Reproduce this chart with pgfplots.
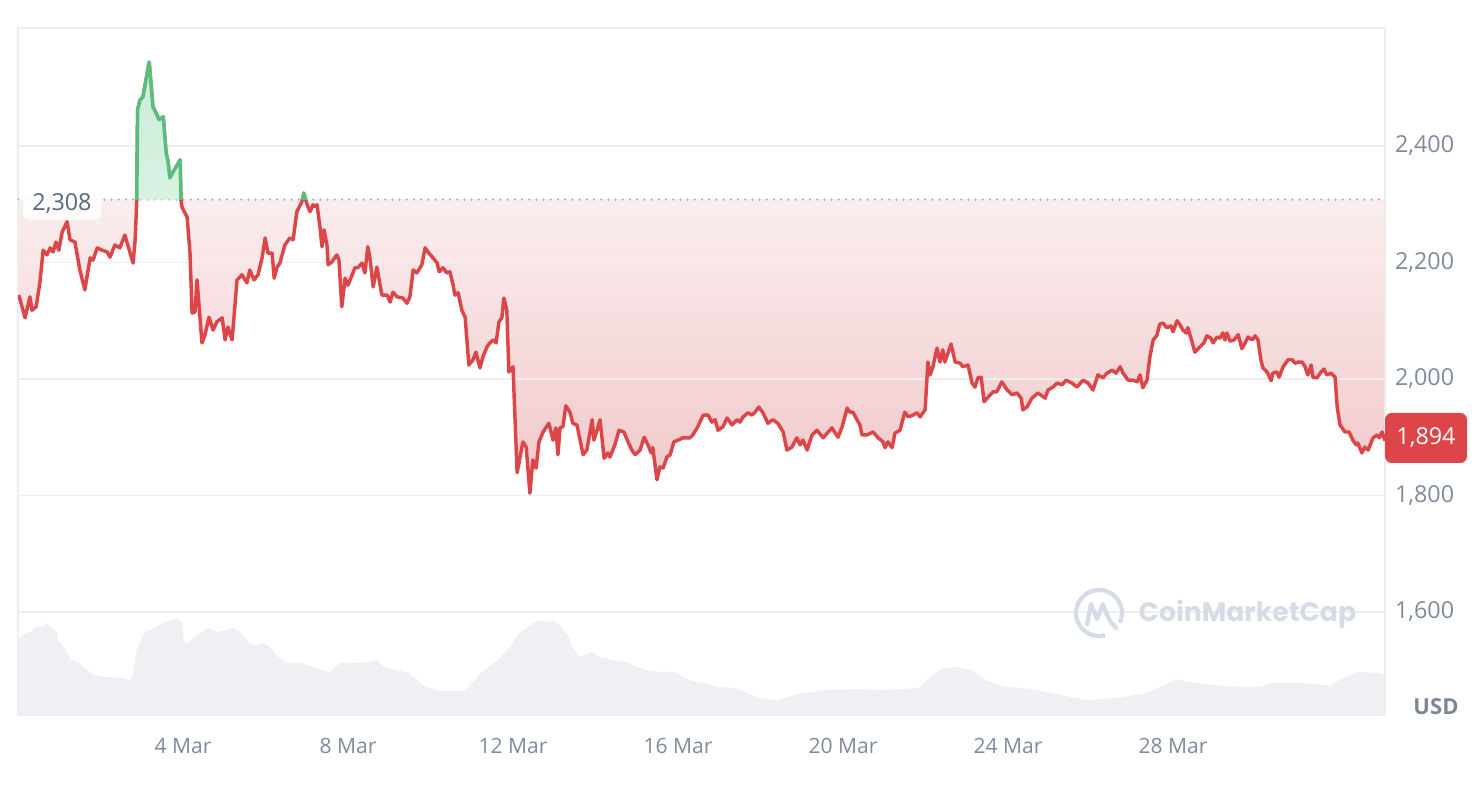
\documentclass[border=0pt]{standalone}
\usepackage{pgfplots}
\pgfplotsset{compat=1.18}
\usepackage{pgfplotstable}
\usepackage{fontspec}
\setmainfont{Open Sans}
\newfontfamily\wmfont{Poppins}
\definecolor{cmcred}{RGB}{220,70,72}
\definecolor{cmcgreen}{RGB}{88,189,125}
\definecolor{gridc}{RGB}{238,238,240}
\definecolor{labc}{RGB}{128,138,157}
\definecolor{usdc}{RGB}{125,134,153}
\definecolor{refc}{RGB}{88,102,126}
\definecolor{volc}{RGB}{239,240,244}
\definecolor{wmc}{RGB}{214,220,231}
\definecolor{redbot}{RGB}{241,200,201}
\definecolor{grntop}{RGB}{200,236,214}
\definecolor{dotc}{RGB}{140,140,146}

\pgfplotstableread{
d v
0.02 2144
0.17 2105
0.29 2141
0.34 2118
0.44 2124
0.53 2165
0.61 2221
0.70 2213
0.78 2225
0.85 2218
0.92 2235
0.99 2221
1.07 2252
1.19 2270
1.26 2239
1.38 2235
1.50 2187
1.62 2153
1.75 2208
1.82 2204
1.92 2225
2.04 2221
2.16 2218
2.23 2209
2.35 2230
2.47 2225
2.59 2247
2.72 2216
2.79 2199
2.84 2239
2.88 2307
2.90 2462
2.96 2479
3.03 2484
3.18 2544
3.27 2467
3.37 2453
3.42 2445
3.52 2450
3.59 2388
3.64 2372
3.68 2345
3.76 2355
3.93 2376
3.95 2307
3.98 2294
4.10 2278
4.17 2216
4.22 2113
4.29 2115
4.34 2170
4.46 2062
4.53 2075
4.63 2106
4.73 2084
4.82 2098
4.95 2105
5.02 2067
5.09 2089
5.19 2067
5.31 2170
5.38 2175
5.43 2179
5.55 2165
5.62 2187
5.72 2170
5.82 2179
5.92 2209
5.99 2242
6.06 2216
6.16 2216
6.21 2173
6.28 2192
6.35 2199
6.47 2230
6.59 2242
6.67 2239
6.76 2287
6.88 2304
6.93 2319
7.01 2299
7.08 2287
7.15 2299
7.20 2296
7.25 2299
7.32 2261
7.37 2227
7.42 2256
7.49 2230
7.52 2196
7.61 2201
7.73 2213
7.78 2204
7.85 2124
7.93 2173
8.00 2161
8.17 2191
8.24 2191
8.34 2199
8.41 2182
8.48 2227
8.53 2209
8.61 2158
8.70 2192
8.82 2144
8.95 2144
9.02 2132
9.09 2149
9.19 2141
9.33 2139
9.43 2130
9.50 2141
9.58 2187
9.67 2182
9.79 2196
9.87 2225
9.96 2216
10.06 2208
10.16 2199
10.21 2184
10.30 2191
10.40 2182
10.47 2184
10.55 2161
10.59 2144
10.67 2148
10.76 2118
10.84 2106
10.93 2024
11.03 2033
11.10 2046
11.20 2019
11.27 2038
11.37 2055
11.44 2062
11.52 2067
11.59 2062
11.66 2098
11.73 2105
11.78 2139
11.85 2118
11.90 2012
12.00 2021
12.10 1839
12.24 1892
12.32 1883
12.41 1804
12.48 1861
12.56 1847
12.63 1892
12.73 1909
12.87 1924
12.97 1895
13.04 1916
13.09 1870
13.14 1916
13.21 1918
13.28 1954
13.38 1943
13.45 1924
13.55 1921
13.70 1870
13.79 1878
13.92 1930
13.96 1895
14.04 1912
14.11 1930
14.21 1864
14.30 1873
14.35 1866
14.47 1887
14.57 1912
14.69 1909
14.79 1892
14.88 1878
14.96 1870
15.08 1878
15.18 1900
15.27 1887
15.35 1873
15.39 1882
15.49 1827
15.56 1849
15.64 1847
15.73 1866
15.81 1870
15.90 1892
16.00 1895
16.12 1899
16.29 1899
16.36 1904
16.48 1918
16.61 1938
16.73 1938
16.82 1926
16.90 1930
16.97 1912
17.09 1918
17.19 1933
17.31 1921
17.43 1930
17.50 1926
17.58 1935
17.70 1942
17.79 1938
17.87 1943
17.96 1952
18.06 1942
18.18 1924
18.30 1930
18.42 1924
18.55 1909
18.64 1878
18.76 1883
18.88 1899
18.96 1887
19.03 1895
19.13 1878
19.25 1904
19.37 1912
19.52 1899
19.73 1916
19.88 1900
19.98 1918
20.10 1950
20.17 1943
20.24 1943
20.41 1921
20.46 1904
20.58 1904
20.73 1909
20.85 1899
20.97 1892
21.02 1882
21.09 1892
21.19 1882
21.26 1907
21.38 1912
21.50 1943
21.58 1935
21.70 1938
21.79 1942
21.87 1935
21.99 1947
22.06 2029
22.11 2007
22.18 2021
22.28 2053
22.35 2029
22.42 2050
22.47 2029
22.62 2060
22.72 2029
22.84 2027
22.91 2021
23.03 2024
23.13 1993
23.20 1986
23.27 2002
23.35 2003
23.42 1961
23.52 1969
23.64 1978
23.73 1978
23.85 1995
23.98 1981
24.10 1973
24.22 1976
24.32 1967
24.36 1947
24.46 1952
24.58 1967
24.73 1976
24.90 1967
24.97 1981
25.09 1986
25.19 1993
25.31 1990
25.41 1998
25.55 1993
25.67 1986
25.82 1998
25.94 1993
26.06 1981
26.18 2007
26.30 2002
26.40 2010
26.52 2015
26.62 2010
26.72 2021
26.79 2010
26.91 1998
27.03 1998
27.13 1995
27.20 2007
27.27 1985
27.37 1998
27.44 2038
27.52 2067
27.61 2075
27.68 2094
27.76 2096
27.85 2088
27.95 2091
28.00 2081
28.10 2100
28.17 2093
28.24 2084
28.32 2079
28.36 2088
28.46 2064
28.53 2046
28.65 2055
28.75 2062
28.82 2074
28.92 2070
28.97 2062
29.07 2072
29.14 2070
29.21 2079
29.26 2067
29.31 2079
29.38 2065
29.48 2067
29.58 2076
29.67 2052
29.75 2062
29.82 2072
29.92 2067
29.99 2074
30.06 2067
30.13 2033
30.18 2019
30.28 2012
30.38 1997
30.42 2010
30.52 2012
30.57 2003
30.67 2021
30.79 2033
30.89 2033
30.96 2027
31.03 2029
31.13 2029
31.20 2021
31.27 2007
31.35 2024
31.39 2003
31.49 2002
31.59 2012
31.66 2017
31.73 2007
31.83 2010
31.93 2003
31.98 1952
32.05 1921
32.17 1909
32.27 1909
32.36 1895
32.44 1887
32.48 1890
32.58 1873
32.65 1883
32.73 1878
32.85 1899
32.95 1904
33.00 1899
33.07 1909
33.14 1894
}\pricetable

\pgfplotstableread{
d h
0.00 73
0.07 78
0.19 82
0.32 83
0.41 88
0.58 88
0.70 92
0.82 87
0.95 83
0.99 74
1.12 67
1.21 62
1.28 55
1.45 53
1.62 47
1.84 40
2.08 38
2.30 38
2.55 37
2.72 35
2.79 43
2.88 65
3.01 78
3.10 83
3.35 88
3.56 93
3.73 95
3.85 97
3.98 93
4.02 73
4.15 72
4.24 77
4.48 83
4.61 87
4.82 83
5.04 85
5.21 87
5.41 82
5.58 73
5.75 70
5.96 72
6.13 67
6.30 58
6.55 52
6.88 52
7.01 50
7.35 45
7.56 43
7.81 52
8.15 52
8.48 53
8.70 55
8.87 48
9.16 45
9.50 42
9.75 32
9.96 27
10.21 24
10.84 24
11.01 32
11.22 42
11.47 50
11.68 57
11.90 67
12.15 82
12.36 88
12.61 95
12.82 93
12.99 95
13.16 88
13.33 80
13.45 67
13.62 58
13.92 63
14.08 58
14.42 55
14.76 53
15.01 48
15.22 45
15.56 43
15.93 43
16.27 35
16.61 32
16.95 28
17.41 27
17.50 25
17.96 17
18.42 15
18.98 22
19.56 25
20.24 26
20.95 25
21.84 27
22.08 37
22.42 47
22.76 48
23.10 45
23.44 35
23.90 28
24.36 27
24.95 23
25.50 18
25.96 15
26.64 17
27.35 22
27.81 30
28.07 36
28.36 33
28.95 30
29.62 28
30.08 28
30.42 32
31.22 32
31.81 29
32.15 38
32.48 43
32.99 42
33.14 40
}\voltable

\begin{document}
\begin{tikzpicture}

% volume
\begin{axis}[
  at={(13.5pt,57pt)}, anchor=south west,
  scale only axis, width=1025.25pt, height=515.25pt,
  xmin=0, xmax=33.14, ymin=0, ymax=687,
  hide axis,
]
\addplot[fill=volc, draw=none] table[x=d,y=h] {\voltable} \closedcycle;
\end{axis}

% red area between price and reference price (below 2,308)
\begin{axis}[
  at={(13.5pt,57pt)}, anchor=south west,
  scale only axis, width=1025.25pt, height=386.58pt,
  xmin=0, xmax=33.14, ymin=1423.2, ymax=2308,
  hide axis,
]
\addplot[draw=none, top color=white, bottom color=redbot] table[x=d,y=v] {\pricetable}
  -- (axis cs:33.14,2308) -- (axis cs:0.02,2308) -- cycle;
\end{axis}

% price
\begin{axis}[
  name=main,
  at={(13.5pt,57pt)}, anchor=south west,
  scale only axis, width=1025.25pt, height=515.25pt,
  xmin=0, xmax=33.14, ymin=1423.2, ymax=2602.5,
  axis line style={draw=gridc, line width=0.9pt},
  xtick={4,8,12,16,20,24,28},
  xticklabels={4 Mar,8 Mar,12 Mar,16 Mar,20 Mar,24 Mar,28 Mar},
  ytick={1600,1800,2000,2200,2400},
  yticklabel pos=right,
  ymajorgrids, grid style={draw=gridc, line width=0.9pt},
  major tick length=0pt,
  tick style={draw=none},
  /pgf/number format/assume math mode=true,
  /pgf/number format/1000 sep={,},
  xticklabel style={font=\fontsize{15.8}{18}\selectfont, text=labc, anchor=center, yshift=-23pt},
  yticklabel style={font=\fontsize{17.5}{20}\selectfont, text=labc, anchor=west, xshift=4pt},
]
\draw[dotc, line width=1.7pt, line cap=round, dash pattern=on 0pt off 5.4pt] (axis cs:0,2308) -- (axis cs:33.14,2308);
\addplot[cmcred, line width=2.6pt, line join=round] table[x=d,y=v] {\pricetable};
\end{axis}

% green part above the reference price
\begin{axis}[
  at={(main.north west)}, anchor=north west,
  scale only axis, width=1025.25pt, height=128.67pt,
  xmin=0, xmax=33.14, ymin=2308, ymax=2602.5,
  hide axis,
]
\addplot[draw=none, top color=grntop, bottom color=white] table[x=d,y=v] {\pricetable}
  -- (axis cs:33.14,2308) -- (axis cs:0.02,2308) -- cycle;
\addplot[cmcgreen, line width=2.6pt, line join=round] table[x=d,y=v] {\pricetable};
\end{axis}

\begin{scope}[x=0.75pt,y=0.75pt]
% reference label
\node[fill=white, fill opacity=0.85, text opacity=1, text=refc, rounded corners=5pt,
      minimum width=58.5pt, minimum height=24pt, inner sep=0pt,
      font=\fontsize{17.5}{20}\selectfont] at (62,587) {2,308};
% last price badge
\node[fill=cmcred, rounded corners=5pt, minimum width=61.5pt, minimum height=37.5pt,
      inner sep=0pt, text=white, font=\fontsize{17.5}{20}\selectfont] at (1426,353) {1,894};
% USD
\node[text=usdc, font=\fontsize{16.5}{19}\selectfont\bfseries] at (1436,84) {USD};
% watermark
\draw[wmc, line width=3.2pt] (1099,178) ++(-25:23) arc[start angle=-25, end angle=285, radius=23];
\draw[wmc, line width=3.2pt, line join=round, line cap=round]
  (1087,167) -- (1091,187) -- (1097,172) -- (1103,187) .. controls (1107,176) .. (1110,170) -- (1116,163);
\node[anchor=west, text=wmc, font=\wmfont\fontsize{20}{24}\selectfont\bfseries] at (1134,177) {CoinMarketCap};
\end{scope}
\pgfresetboundingbox
\path[use as bounding box] (0,0) rectangle (1111.5pt,593.25pt);
\end{tikzpicture}
\end{document}
